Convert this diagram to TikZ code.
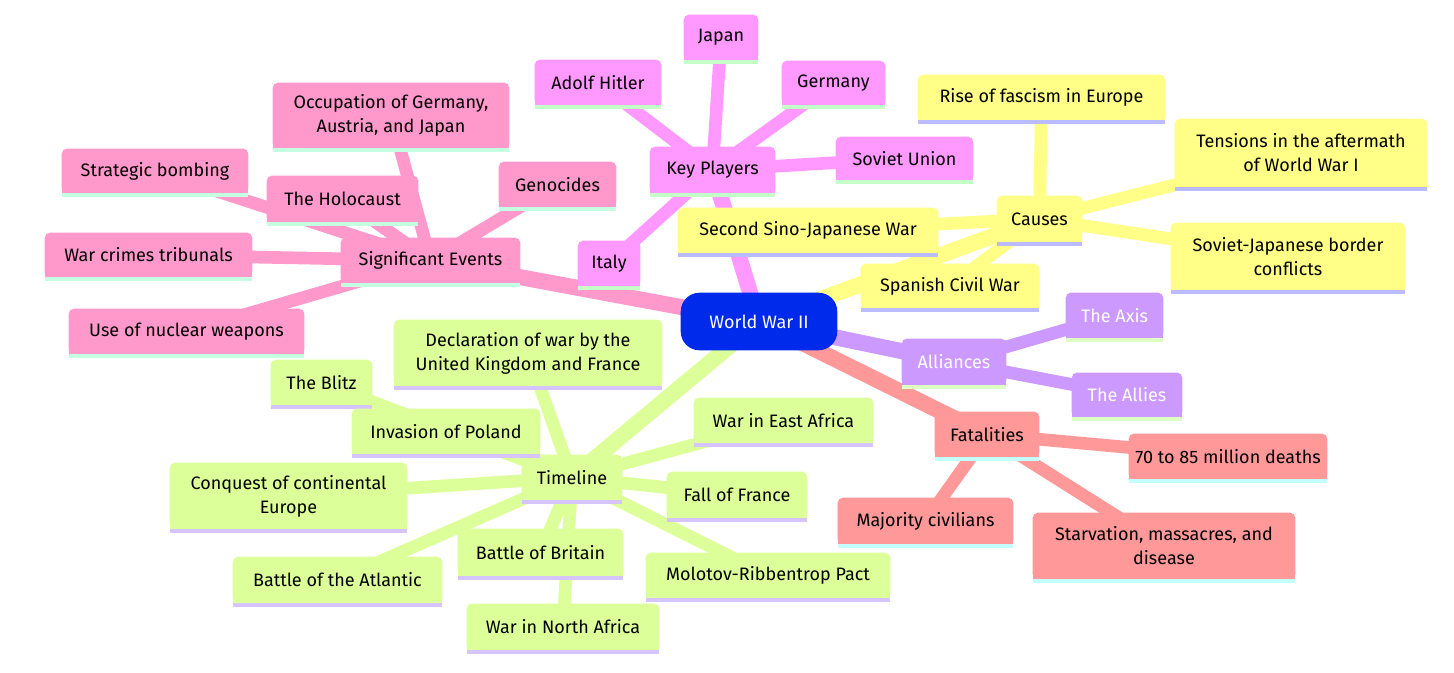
\documentclass[tikz,border=0pt]{standalone}
\usepackage{fontspec}
\setmainfont{Fira Sans}
\pgfdeclarelayer{edges}
\pgfdeclarelayer{boxes}
\pgfsetlayers{edges,boxes,main}
\definecolor{rootc}{RGB}{0,42,235}
\definecolor{Yfill}{RGB}{255,255,136}
\definecolor{Ystrip}{RGB}{187,187,255}
\definecolor{Mfill}{RGB}{255,153,255}
\definecolor{Mstrip}{RGB}{196,255,200}
\definecolor{Pfill}{RGB}{255,153,204}
\definecolor{Pstrip}{RGB}{196,255,226}
\definecolor{Gfill}{RGB}{221,255,153}
\definecolor{Gstrip}{RGB}{214,196,255}
\definecolor{Vfill}{RGB}{204,153,255}
\definecolor{Vstrip}{RGB}{221,255,196}
\definecolor{Sfill}{RGB}{255,153,153}
\definecolor{Sstrip}{RGB}{196,255,255}
\tikzset{
  mmtext/.style={inner sep=0pt, align=center, font=\fontsize{13.5}{18}\selectfont},
  Ytext/.style={mmtext, text=black},
  Mtext/.style={mmtext, text=black},
  Ptext/.style={mmtext, text=black},
  Gtext/.style={mmtext, text=black},
  Vtext/.style={mmtext, text=white},
  Stext/.style={mmtext, text=black},
  rootedge/.style={line width=12pt},
  leafedge/.style={line width=9.5pt},
}
\newcommand\mmnode[7]{%
  \pgfmathsetmacro\mmw{(#5-#3)*0.75}%
  \pgfmathsetmacro\mmh{(#6-#4)*0.75}%
  \node[#2text, minimum width=\mmw pt, minimum height=\mmh pt] (#1) at ({(#3+#5)/2},{(#4+#6)/2}) {#7};
  \begin{pgfonlayer}{boxes}
    \fill[#2fill, rounded corners=3.75pt] (#1.south west) rectangle (#1.north east);
    \fill[#2fill] (#1.south west) rectangle (#1.east);
    \fill[#2strip] (#1.south west) rectangle ([yshift=-2.6pt]#1.south east);
  \end{pgfonlayer}
}
\newcommand\mmedge[4]{%
  \begin{pgfonlayer}{edges}
    \draw[#1, #2fill] (#3.center) -- (#4.center);
  \end{pgfonlayer}
}
\begin{document}
\begin{tikzpicture}[x=0.75pt, y=-0.75pt]
\useasboundingbox (0,0) rectangle (1454,672);
% root
\node[mmtext, text=white, minimum width=117pt, minimum height=42.75pt] (root) at (759,321.5) {World War II};
\begin{pgfonlayer}{boxes}
  \fill[rootc, rounded corners=14pt] (root.south west) rectangle (root.north east);
\end{pgfonlayer}
% Causes
\mmnode{causes}{Y}{997}{196}{1082}{242}{Causes}
\mmnode{rise}{Y}{918}{75}{1165}{120}{Rise of fascism in Europe}
\mmnode{tensions}{Y}{1175}{119}{1427}{187}{Tensions in the aftermath\\of World War I}
\mmnode{sjborder}{Y}{1171}{223}{1405}{290}{Soviet-Japanese border\\conflicts}
\mmnode{spanish}{Y}{861}{264}{1039}{308}{Spanish Civil War}
\mmnode{sino}{Y}{678}{208}{938}{253}{Second Sino-Japanese War}
% Key players
\mmnode{key}{M}{650}{147}{775}{193}{Key Players}
\mmnode{hitler}{M}{535}{60}{661}{105}{Adolf Hitler}
\mmnode{japan}{M}{684}{15}{758}{60}{Japan}
\mmnode{germany}{M}{782}{61}{885}{105}{Germany}
\mmnode{sovu}{M}{836}{137}{973}{180}{Soviet Union}
\mmnode{italy}{M}{578}{241}{640}{286}{Italy}
% Significant events
\mmnode{sig}{P}{341}{238}{520}{283}{Significant Events}
\mmnode{occ}{P}{273}{83}{509}{148}{Occupation of Germany,\\Austria, and Japan}
\mmnode{strat}{P}{62}{149}{248}{193}{Strategic bombing}
\mmnode{holo}{P}{267}{176}{418}{222}{The Holocaust}
\mmnode{geno}{P}{499}{162}{616}{207}{Genocides}
\mmnode{tribunal}{P}{45}{233}{252}{277}{War crimes tribunals}
\mmnode{nuclear}{P}{69}{309}{304}{354}{Use of nuclear weapons}
% Timeline
\mmnode{timeline}{G}{522}{455}{622}{500}{Timeline}
\mmnode{decl}{G}{394}{320}{662}{386}{Declaration of war by the\\United Kingdom and France}
\mmnode{blitz}{G}{271}{360}{372}{405}{The Blitz}
\mmnode{poland}{G}{352}{409}{540}{454}{Invasion of Poland}
\mmnode{conquest}{G}{170}{463}{407}{529}{Conquest of continental\\Europe}
\mmnode{eastafrica}{G}{694}{398}{873}{443}{War in East Africa}
\mmnode{fall}{G}{667}{472}{807}{518}{Fall of France}
\mmnode{britain}{G}{458}{529}{623}{576}{Battle of Britain}
\mmnode{atlantic}{G}{233}{557}{442}{603}{Battle of the Atlantic}
\mmnode{molotov}{G}{646}{553}{890}{598}{Molotov-Ribbentrop Pact}
\mmnode{northafrica}{G}{467}{604}{659}{650}{War in North Africa}
% Alliances
\mmnode{alliances}{V}{902}{339}{1006}{385}{Alliances}
\mmnode{axis}{V}{1066}{293}{1163}{338}{The Axis}
\mmnode{allies}{V}{1072}{373}{1182}{417}{The Allies}
% Fatalities
\mmnode{fatal}{S}{935}{412}{1039}{457}{Fatalities}
\mmnode{deaths}{S}{1129}{434}{1327}{479}{70 to 85 million deaths}
\mmnode{majority}{S}{838}{498}{1013}{544}{Majority civilians}
\mmnode{starv}{S}{1033}{513}{1295}{579}{Starvation, massacres, and\\disease}
% edges from root
\mmedge{rootedge}{Y}{root}{causes}
\mmedge{rootedge}{M}{root}{key}
\mmedge{rootedge}{P}{root}{sig}
\mmedge{rootedge}{G}{root}{timeline}
\mmedge{rootedge}{V}{root}{alliances}
\mmedge{rootedge}{S}{root}{fatal}
% leaf edges
\mmedge{leafedge}{Y}{causes}{rise}
\mmedge{leafedge}{Y}{causes}{tensions}
\mmedge{leafedge}{Y}{causes}{sjborder}
\mmedge{leafedge}{Y}{causes}{spanish}
\mmedge{leafedge}{Y}{causes}{sino}
\mmedge{leafedge}{M}{key}{hitler}
\mmedge{leafedge}{M}{key}{japan}
\mmedge{leafedge}{M}{key}{germany}
\mmedge{leafedge}{M}{key}{sovu}
\mmedge{leafedge}{M}{key}{italy}
\mmedge{leafedge}{P}{sig}{occ}
\mmedge{leafedge}{P}{sig}{strat}
\mmedge{leafedge}{P}{sig}{holo}
\mmedge{leafedge}{P}{sig}{geno}
\mmedge{leafedge}{P}{sig}{tribunal}
\mmedge{leafedge}{P}{sig}{nuclear}
\mmedge{leafedge}{G}{timeline}{decl}
\mmedge{leafedge}{G}{timeline}{blitz}
\mmedge{leafedge}{G}{timeline}{poland}
\mmedge{leafedge}{G}{timeline}{conquest}
\mmedge{leafedge}{G}{timeline}{eastafrica}
\mmedge{leafedge}{G}{timeline}{fall}
\mmedge{leafedge}{G}{timeline}{britain}
\mmedge{leafedge}{G}{timeline}{atlantic}
\mmedge{leafedge}{G}{timeline}{molotov}
\mmedge{leafedge}{G}{timeline}{northafrica}
\mmedge{leafedge}{V}{alliances}{axis}
\mmedge{leafedge}{V}{alliances}{allies}
\mmedge{leafedge}{S}{fatal}{deaths}
\mmedge{leafedge}{S}{fatal}{majority}
\mmedge{leafedge}{S}{fatal}{starv}
\end{tikzpicture}
\end{document}
